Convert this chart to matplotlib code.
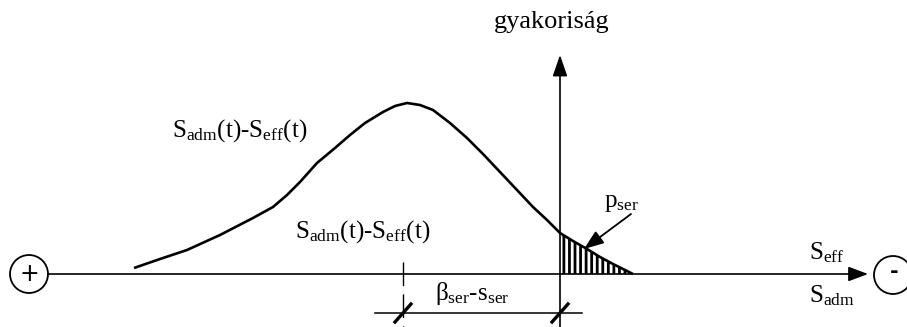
import numpy as np
import matplotlib
matplotlib.use('Agg')
import matplotlib.pyplot as plt
from matplotlib.patches import Circle

plt.rcParams['font.family'] = ['Liberation Serif', 'DejaVu Serif']
plt.rcParams['mathtext.fontset'] = 'custom'
plt.rcParams['mathtext.rm'] = 'Liberation Serif'
plt.rcParams['mathtext.it'] = 'Liberation Serif:italic'
plt.rcParams['hatch.linewidth'] = 2.0

# gyakorisagi gorbe (rajz koordinatakban, px)
curve_x = [134, 160, 187, 220, 253, 273, 287, 300, 317, 335, 350, 365, 383, 395,
           407, 420, 433, 450, 467, 483, 500, 517, 533, 547, 560, 573, 587, 600,
           613, 623, 633]
curve_y = [268, 259, 250, 235, 218, 207, 195, 182, 163, 148, 135, 123, 112, 106,
           103, 105, 110, 123, 138, 154, 172, 190, 207, 220, 233, 241, 249, 257,
           264, 269, 274]

axis_y = 274      # vizszintes tengely
axis_x = 560      # fuggoleges tengely
mean_x = 403      # a gorbe kozepe (beta_ser - s_ser kezdete)
dim_y = 313       # meretvonal

label_diff = 'S$_{\\mathrm{adm}}$(t)-S$_{\\mathrm{eff}}$(t)'
label_beta = '\u03b2$_{\\mathrm{ser}}$-s$_{\\mathrm{ser}}$'

fig = plt.figure(figsize=(9.07, 3.27), dpi=100)
ax = fig.add_axes([0, 0, 1, 1])
ax.set_xlim(0, 907)
ax.set_ylim(327, 0)
ax.axis('off')

cx = np.array(curve_x)
cy = np.array(curve_y)

# tengelyek
ax.annotate('', xy=(868, axis_y), xytext=(48, axis_y),
            arrowprops=dict(arrowstyle='-|>,head_length=1.2,head_width=0.45',
                            lw=1.2, color='black', shrinkA=0, shrinkB=0))
ax.annotate('', xy=(axis_x, 55), xytext=(axis_x, 327),
            arrowprops=dict(arrowstyle='-|>,head_length=1.3,head_width=0.45',
                            lw=1.2, color='black', shrinkA=0, shrinkB=0))

# gorbe es vonalkazott terulet
ax.plot(cx, cy, color='black', lw=1.9, solid_capstyle='butt')
m = cx >= axis_x
ax.fill_between(cx[m], cy[m], axis_y, facecolor='none', edgecolor='black',
                hatch='|||', linewidth=0)

# + es - jelek
ax.add_patch(Circle((29, axis_y), 19, fill=False, lw=1.3, color='black'))
ax.add_patch(Circle((893, axis_y + 1), 19, fill=False, lw=1.3, color='black'))
ax.text(29, axis_y, '+', ha='center', va='center', fontsize=17,
        family='DejaVu Sans')
ax.text(894, axis_y - 2, '-', ha='center', va='center', fontsize=15,
        family='DejaVu Sans', fontweight='bold')

# meretvonal
ax.plot([mean_x, mean_x], [262, 327], color='black', lw=1.0, dashes=(17, 6))
ax.plot([375, 582], [dim_y, dim_y], color='black', lw=1.1)
for xx in (mean_x, axis_x):
    ax.plot([xx - 8, xx + 8], [dim_y + 9, dim_y - 9], color='black', lw=2.4)

# p_ser nyil
ax.annotate('', xy=(584, 249), xytext=(631, 214),
            arrowprops=dict(arrowstyle='-|>,head_length=1.2,head_width=0.45',
                            lw=1.3, color='black', shrinkA=0, shrinkB=0))

# feliratok
fs = 18
ax.text(552, 28, 'gyakoriság', ha='center', va='baseline', fontsize=19)
ax.text(172, 137, label_diff, ha='left', va='baseline', fontsize=fs)
ax.text(295, 238, label_diff, ha='left', va='baseline', fontsize=fs)
ax.text(435, 300, label_beta, ha='left', va='baseline', fontsize=fs)
ax.text(604, 207, 'p$_{\\mathrm{ser}}$', ha='left', va='baseline', fontsize=fs)
ax.text(809, 259, 'S$_{\\mathrm{eff}}$', ha='left', va='baseline', fontsize=fs)
ax.text(809, 302, 'S$_{\\mathrm{adm}}$', ha='left', va='baseline', fontsize=fs)

fig.savefig('out.png', dpi=100)
